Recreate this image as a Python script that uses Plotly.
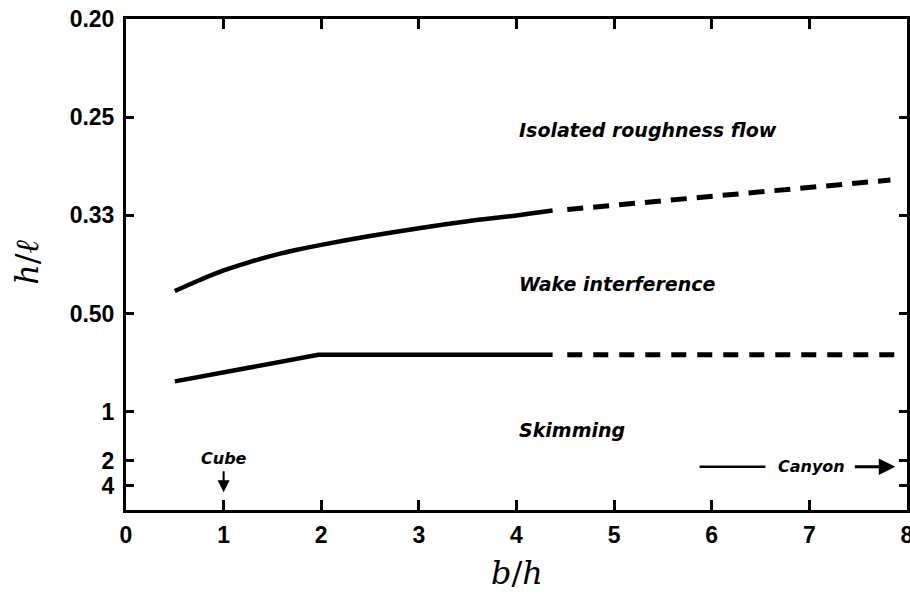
import plotly.graph_objects as go

# Flow-regime boundaries over building spacing b/h; the vertical axis is l/h
# (drawn with h/l tick labels), so spacing values are stored as l/h.
upper_x = [0.5, 0.75, 1.0, 1.25, 1.5, 1.75, 2.0, 2.5, 3.0, 3.5, 4.0, 4.37]
upper_y = [2.23, 2.34, 2.44, 2.52, 2.59, 2.65, 2.70, 2.79, 2.87, 2.94, 3.00, 3.05]
upper_ext_x = [4.52, 7.83]
upper_ext_y = [3.06, 3.36]

lower_x = [0.5, 1.97, 4.37]
lower_y = [1.31, 1.58, 1.58]
lower_ext_x = [4.52, 7.91]
lower_ext_y = [1.58, 1.58]

y_tick_vals = [5, 4, 3, 2, 1, 0.5, 0.25]
y_tick_text = ["0.20", "0.25", "0.33", "0.50", "1", "2", "4"]
x_tick_vals = [0, 1, 2, 3, 4, 5, 6, 7, 8]

regime_labels = ["Isolated roughness flow", "Wake interference", "Skimming"]
regime_label_x = [4.0, 4.0, 4.0]
regime_label_y = [3.87, 2.30, 0.815]

SANS = "Liberation Sans, Arial, Helvetica, sans-serif"
WIDE = "DejaVu Sans, Verdana, sans-serif"
SERIF = "DejaVu Serif, Liberation Serif, serif"

fig = go.Figure()

fig.add_trace(go.Scatter(x=upper_x, y=upper_y, mode="lines",
                         line=dict(color="black", width=4.5, shape="spline"),
                         hoverinfo="skip"))
fig.add_trace(go.Scatter(x=upper_ext_x, y=upper_ext_y, mode="lines",
                         line=dict(color="black", width=5, dash="16px,10px"),
                         hoverinfo="skip"))
fig.add_trace(go.Scatter(x=lower_x, y=lower_y, mode="lines",
                         line=dict(color="black", width=4.5),
                         hoverinfo="skip"))
fig.add_trace(go.Scatter(x=lower_ext_x, y=lower_ext_y, mode="lines",
                         line=dict(color="black", width=5, dash="15px,11px"),
                         hoverinfo="skip"))

annotations = []
for txt, ax_, ay_ in zip(regime_labels, regime_label_x, regime_label_y):
    annotations.append(dict(x=ax_, y=ay_, xref="x", yref="y", text=f"<b><i>{txt}</i></b>",
                            showarrow=False, xanchor="left", yanchor="middle",
                            font=dict(family=WIDE, size=19, color="black")))

# "Cube" marker with a downward arrow at b/h = 1
annotations.append(dict(x=1.0, y=0.52, xref="x", yref="y", text="<b><i>Cube</i></b>",
                        showarrow=False, xanchor="center", yanchor="middle",
                        font=dict(family=WIDE, size=16, color="black")))
annotations.append(dict(x=1.0, y=0.18, ax=1.0, ay=0.41, xref="x", yref="y",
                        axref="x", ayref="y", text="", showarrow=True,
                        arrowhead=2, arrowsize=1.2, arrowwidth=2, arrowcolor="black"))

# "Canyon" range indicator
annotations.append(dict(x=7.02, y=0.44, xref="x", yref="y", text="<b><i>Canyon</i></b>",
                        showarrow=False, xanchor="center", yanchor="middle",
                        font=dict(family=WIDE, size=16, color="black")))
annotations.append(dict(x=6.55, y=0.44, ax=5.86, ay=0.44, xref="x", yref="y",
                        axref="x", ayref="y", text="", showarrow=True,
                        arrowhead=0, arrowwidth=2.5, arrowcolor="black"))
annotations.append(dict(x=7.88, y=0.44, ax=7.45, ay=0.44, xref="x", yref="y",
                        axref="x", ayref="y", text="", showarrow=True,
                        arrowhead=2, arrowsize=1.1, arrowwidth=3, arrowcolor="black"))

# Axis titles
annotations.append(dict(x=-0.127, y=0.505, xref="paper", yref="paper",
                        text="<i>h</i>/<i>ℓ</i>", textangle=-90, showarrow=False,
                        xanchor="center", yanchor="middle",
                        font=dict(family=SERIF, size=32, color="black")))
annotations.append(dict(x=0.5, y=-0.128, xref="paper", yref="paper",
                        text="<i>b</i>/<i>h</i>", showarrow=False,
                        xanchor="center", yanchor="middle",
                        font=dict(family=SERIF, size=32, color="black")))

axis_common = dict(showgrid=False, zeroline=False, showline=True, linecolor="black",
                   linewidth=3, ticks="inside", tickcolor="black", tickwidth=2.5,
                   mirror="ticks", ticklabeloverflow="allow", automargin=False,
                   tickfont=dict(family=SANS, size=23, color="black", weight="bold"))

fig.update_layout(
    width=910, height=594,
    margin=dict(l=126, r=3, t=19, b=84, autoexpand=False),
    paper_bgcolor="white", plot_bgcolor="white",
    showlegend=False,
    annotations=annotations,
    xaxis=dict(range=[0, 8], tickvals=x_tick_vals, ticklen=10, ticklabelstandoff=2,
               **axis_common),
    yaxis=dict(range=[0, 5], tickvals=y_tick_vals, ticktext=y_tick_text, ticklen=8,
               ticklabelstandoff=4, **axis_common),
)

fig.write_html("out.html")
